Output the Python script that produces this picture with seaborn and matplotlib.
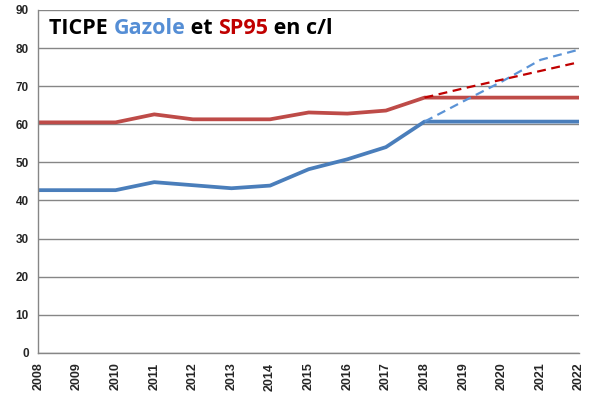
import numpy as np
import pandas as pd
import matplotlib
matplotlib.use("Agg")
import matplotlib.pyplot as plt
import seaborn as sns

years = list(range(2008, 2023))
gazole = [42.7, 42.7, 42.7, 44.8, 44.0, 43.2, 43.9, 48.2, 50.8, 54.0, 60.7,
          60.7, 60.7, 60.7, 60.7]
sp95 = [60.5, 60.5, 60.5, 62.6, 61.3, 61.3, 61.3, 63.1, 62.8, 63.6, 67.0,
        67.0, 67.0, 67.0, 67.0]
proj_years = [2018, 2019, 2020, 2021, 2022]
gazole_proj = [60.7, 66.0, 71.2, 76.9, 79.6]
sp95_proj = [67.0, 69.4, 71.7, 74.0, 76.3]

df = pd.DataFrame({"year": years, "gazole": gazole, "sp95": sp95})
proj = pd.DataFrame({"year": proj_years, "gazole": gazole_proj, "sp95": sp95_proj})

sns.set_style("white")
plt.rcParams['font.family'] = ['Liberation Sans', 'DejaVu Sans']

fig, ax = plt.subplots(figsize=(6, 4), dpi=100)
fig.subplots_adjust(left=0.064, right=0.965, top=0.975, bottom=0.118)

sns.lineplot(data=df, x="year", y="gazole", ax=ax, color="#4a7ebb", linewidth=2.7)
sns.lineplot(data=df, x="year", y="sp95", ax=ax, color="#be4b48", linewidth=2.7)
sns.lineplot(data=proj, x="year", y="gazole", ax=ax, color="#5b93d6", linewidth=1.6,
             linestyle=(0, (4, 2.5)))
sns.lineplot(data=proj, x="year", y="sp95", ax=ax, color="#c00000", linewidth=1.6,
             linestyle=(0, (4, 2.5)))

ax.set_xlim(2008, 2022)
ax.set_ylim(0, 90)
ax.set_xticks(years)
ax.set_yticks(range(0, 91, 10))
ax.set_xticklabels([str(y) for y in years], rotation=90, fontweight="bold", fontsize=9)
ax.set_yticklabels([str(v) for v in range(0, 91, 10)], fontweight="bold", fontsize=8.5)
ax.set_xlabel("")
ax.set_ylabel("")
ax.yaxis.grid(True, color="#868686", linewidth=1)
ax.set_axisbelow(True)
for s in ["top", "right"]:
    ax.spines[s].set_visible(False)
for s in ["left", "bottom"]:
    ax.spines[s].set_color("#868686")
    ax.spines[s].set_linewidth(1)
ax.tick_params(axis="both", direction="out", length=5, color="#868686", width=1, pad=2)

# title in pieces of colour
parts = [("TICPE ", "black"), ("Gazole", "#558ed5"), (" et ", "black"),
         ("SP95", "#c00000"), (" en c/l", "black")]
fig.canvas.draw()
renderer = fig.canvas.get_renderer()
x = 49
for txt, col in parts:
    t = fig.text(x / 600, 1 - 34 / 400, txt, color=col, fontsize=15.5, fontweight="bold",
                 family=["Open Sans", "DejaVu Sans"], va="baseline", ha="left")
    bb = t.get_window_extent(renderer=renderer)
    x += bb.width

fig.savefig("out.png", dpi=100)
